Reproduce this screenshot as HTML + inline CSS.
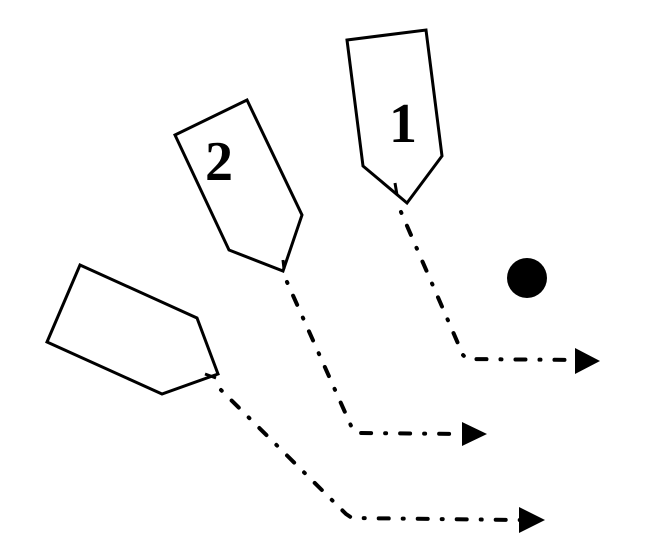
<!DOCTYPE html>
<html><head><style>html,body{margin:0;padding:0;background:#fff}</style></head>
<body>
<svg width="665" height="553" viewBox="0 0 665 553" xmlns="http://www.w3.org/2000/svg">
<g fill="none" stroke="#000" stroke-width="3" stroke-linejoin="miter">
<polygon points="347,40 426,30 442,156 407,203 363,166"/>
<polygon points="175,135 247,100 302,215 283,271 229,250"/>
<polygon points="47,342 80,265 197,318 218,374 162,394"/>
<line x1="395" y1="183" x2="397" y2="195"/>
<line x1="283" y1="260" x2="284" y2="269"/>
<line x1="205" y1="374" x2="216" y2="378"/>
</g>
<g fill="none" stroke="#000" stroke-width="4" stroke-linecap="round" stroke-dasharray="1 14 10 14">
<polyline points="401,212 463,355 467,359 575,360"/>
<polyline points="287,282 352,428 357,433 463,434"/>
<polyline points="221,390 346,514 352,518 520,520"/>
</g>
<polygon points="575,348 600,361 575,374" fill="#000"/>
<polygon points="462,422 487,434 462,446" fill="#000"/>
<polygon points="519,507 545,520 519,533" fill="#000"/>
<circle cx="527" cy="278" r="20" fill="#000"/>
<text x="403" y="142" font-family="Liberation Serif, serif" font-weight="bold" font-size="56" text-anchor="middle">1</text>
<text x="219" y="180" font-family="Liberation Serif, serif" font-weight="bold" font-size="56" text-anchor="middle">2</text>
</svg>
</body></html>
